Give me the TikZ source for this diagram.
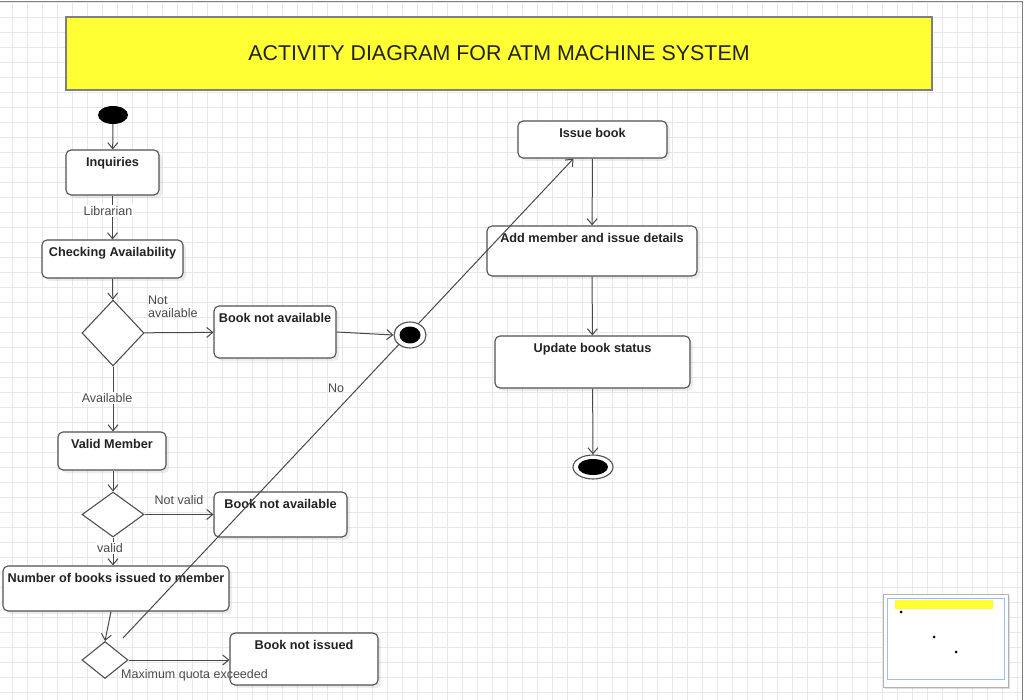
\documentclass[tikz,border=0pt]{standalone}
\usepackage{fontspec}
\setmainfont{Liberation Sans}
\usetikzlibrary{shapes.geometric,arrows.meta,shadows}
\definecolor{gridc}{HTML}{E8E8E8}
\definecolor{boxc}{HTML}{505050}
\definecolor{linec}{HTML}{484848}
\definecolor{txt}{HTML}{222222}
\definecolor{lblc}{HTML}{4A4A4A}
\definecolor{titleyel}{HTML}{FFFF33}
\definecolor{minblue}{HTML}{9DBDF2}
\begin{document}
\begin{tikzpicture}[x=1pt,y=-1pt,
  act/.style={draw=boxc, line width=1.1pt, rounded corners=5pt, fill=white,
    drop shadow={shadow xshift=3pt,shadow yshift=-3pt,opacity=0.15},
    inner sep=0pt,
    label={[anchor=north,yshift=-4pt,font=\bfseries\fontsize{12.7}{14}\selectfont,text=txt]north:#1}},
  decis/.style={diamond, draw=boxc, line width=1.1pt, fill=white, inner sep=0pt},
  arr/.style={draw=linec, line width=1pt, -{Straight Barb[length=6pt,width=10pt]}},
  elbl/.style={font=\fontsize{12.5}{12.5}\selectfont, text=lblc, inner sep=1pt},
  elblw/.style={elbl, fill=white},
]
\useasboundingbox (0,0) rectangle (1024,700);
% grid
\foreach \gx in {12,27,...,1017} \draw[gridc, line width=0.8pt] (\gx,2) -- (\gx,700);
\foreach \gy in {2,17,...,692} \draw[gridc, line width=0.8pt] (0,\gy) -- (1022,\gy);
\draw[gray, line width=1pt] (0,1.5) -- (1022.5,1.5) -- (1022.5,700);

% title
\node[draw=gray, line width=1.2pt, fill=titleyel, minimum width=866pt, minimum height=73pt,
  font=\fontsize{21.4}{24}\selectfont, text=txt] (title) at (499,53.5) {ACTIVITY DIAGRAM FOR ATM MACHINE SYSTEM};

% start
\node[ellipse, fill=black, minimum width=30pt, minimum height=18pt, inner sep=0pt] (start) at (113,115) {};

% activities
\node[act=Inquiries, minimum width=93pt, minimum height=45pt] (inq) at (112.5,172.5) {};
\node[act=Checking Availability, minimum width=141pt, minimum height=38pt] (chk) at (112.5,259) {};
\node[act=Book not available, minimum width=122pt, minimum height=52pt] (bna1) at (275,332) {};
\node[act=Valid Member, minimum width=108pt, minimum height=38pt] (vm) at (112,451) {};
\node[act=Book not available, minimum width=133pt, minimum height=45pt] (bna2) at (280.5,514.5) {};
\node[act=Number of books issued to member, minimum width=226pt, minimum height=45pt] (nb) at (116,588.5) {};
\node[act=Book not issued, minimum width=148pt, minimum height=52pt] (bni) at (304,659) {};
\node[act=Issue book, minimum width=149pt, minimum height=37pt] (ib) at (592.5,139.5) {};
\node[act=Add member and issue details, minimum width=210pt, minimum height=50pt] (amd) at (592,251) {};
\node[act=Update book status, minimum width=195pt, minimum height=52pt] (ubs) at (592.5,362) {};

% decisions
\node[decis, minimum width=62pt, minimum height=66pt] (d1) at (113,333) {};
\node[decis, minimum width=62pt, minimum height=45pt] (d2) at (113,514.5) {};
\node[decis, minimum width=46pt, minimum height=37pt] (d3) at (105,660) {};

% connectors
\draw[arr] (start) -- (inq);
\draw[arr] (inq) -- (chk);
\draw[arr] (chk) -- (d1);
\draw[arr] (d1) -- (bna1);
\draw[arr] (d1.south) -- (d1.south |- vm.north);
\draw[arr] (vm.south -| d2.north) -- (d2.north);
\draw[arr] (d2) -- (bna2);
\draw[arr] (d2.south) -- (d2.south |- nb.north);
\draw[arr] ([xshift=-5pt]nb.south) -- (d3.north);
\draw[arr] (d3.east) -- (d3.east -| bni.west);
\coordinate (qs) at (123,638);
\draw[arr] (qs) -- ([xshift=-19pt]ib.south);
\draw[arr] (ib) -- (amd);
\draw[arr] (amd) -- (ubs);

% merge node (drawn over the long connector)
\node[ellipse, draw=boxc, line width=1.1pt, fill=white, minimum width=32pt, minimum height=26pt, inner sep=0pt] (merge) at (410,335) {};
\node[ellipse, fill=black, minimum width=21pt, minimum height=17pt, inner sep=0pt] (mergein) at (merge) {};
\draw[arr] (bna1.east) -- (merge.west);

% end node
\node[ellipse, draw=boxc, line width=1.1pt, fill=white, minimum width=40pt, minimum height=24pt, inner sep=0pt] (fin) at (593,467) {};
\node[ellipse, fill=black, minimum width=30pt, minimum height=16pt, inner sep=0pt] (finin) at (fin) {};
\draw[arr] (ubs) -- (fin);

% edge labels
\node[elblw] (lLib) at (108,211) {Librarian};
\node[elbl, anchor=north west, align=left] (lNA) at (147,295) {Not\\available};
\node[elblw] (lAv) at (107,398) {Available};
\node[elbl] (lNV) at (179,500) {Not valid};
\node[elblw] (lV) at (110,548) {valid};
\node[elbl] (lNo) at (336,388) {No};
\node[elbl, anchor=west] (lMax) at (120,675) {Maximum quota exceeded};

% minimap
\node[draw=gray!60, fill=white, minimum width=125pt, minimum height=93pt, inner sep=0pt,
  drop shadow={shadow xshift=2pt,shadow yshift=-2pt,opacity=0.25}] (mm) at (945.5,640.5) {};
\node[draw=minblue, line width=1pt, minimum width=117pt, minimum height=81pt, inner sep=0pt] (mmin) at (946,638.5) {};
\node[fill=titleyel, minimum width=98pt, minimum height=9pt, inner sep=0pt] (mmt) at (944,604.5) {};
\node[circle, fill=black, minimum size=3pt, inner sep=0pt] (mm1) at (901,612) {};
\node[circle, fill=black, minimum size=3pt, inner sep=0pt] (mm2) at (934,637) {};
\node[circle, fill=black, minimum size=3pt, inner sep=0pt] (mm3) at (956,652) {};
\end{tikzpicture}
\end{document}
